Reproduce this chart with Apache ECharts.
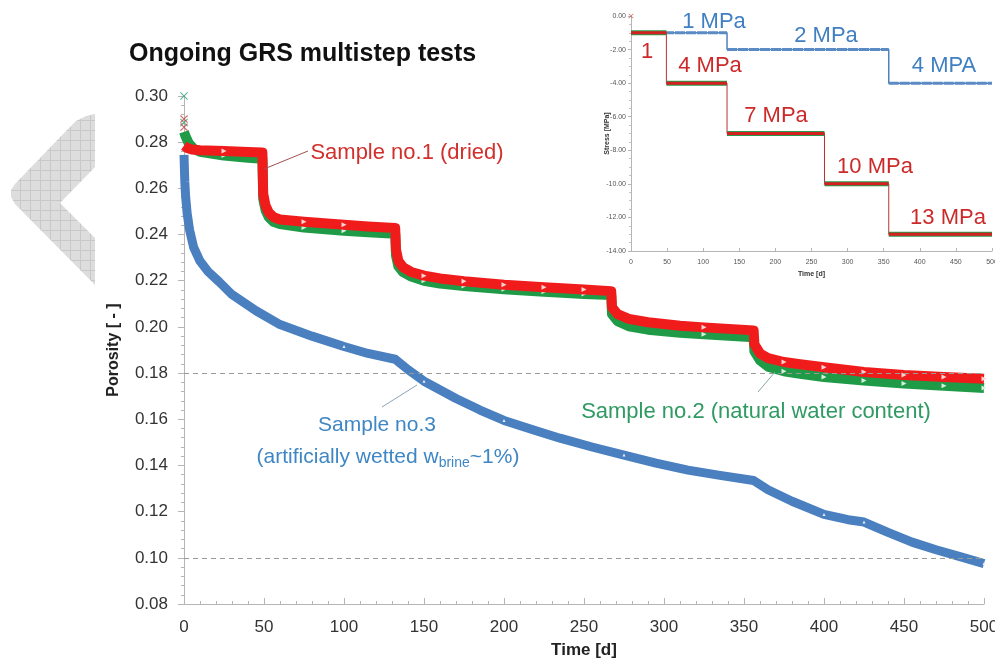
<!DOCTYPE html>
<html>
<head>
<meta charset="utf-8">
<script src="https://cdn.jsdelivr.net/npm/echarts@6/dist/echarts.min.js"></script>
<style>
  html, body { margin: 0; padding: 0; background: #ffffff; }
  #chart { width: 995px; height: 668px; }
</style>
</head>
<body>
<div id="chart"></div>
<script>
// ---- Porosity over time, [time in days, porosity] ----
// Sample no.1 (dried)
const sample1 = [
  [0, 0.2785], [2, 0.2775], [5, 0.2768], [10, 0.2765], [25, 0.2762], [40, 0.2758], [49, 0.2755],
  [49.5, 0.2575], [51, 0.2525], [53, 0.2495], [56, 0.2475], [60, 0.2465], [75, 0.2455], [100, 0.2442], [115, 0.2435], [132, 0.2428],
  [132.5, 0.2335], [134, 0.2285], [137, 0.2258], [142, 0.2238], [150, 0.2222], [160, 0.2210], [175, 0.2198], [200, 0.2183], [225, 0.2172], [250, 0.2162], [267, 0.2155],
  [267.5, 0.2085], [271, 0.2055], [278, 0.2035], [290, 0.2020], [310, 0.2005], [325, 0.1998], [356, 0.1985],
  [356.5, 0.1925], [360, 0.1885], [365, 0.1865], [375, 0.1848], [385, 0.1838], [400, 0.1825], [425, 0.1805], [450, 0.1792], [475, 0.1783], [500, 0.1775]
];
// Sample no.2 (natural water content)
const sample2 = [
  [0, 0.2845], [1, 0.2825], [3, 0.2795], [6, 0.2772], [10, 0.2758], [25, 0.2742], [40, 0.2733], [49, 0.2728],
  [49.5, 0.2555], [51, 0.2505], [53, 0.2475], [56, 0.2455], [60, 0.2445], [75, 0.2430], [100, 0.2416], [115, 0.2410], [132, 0.2403],
  [132.5, 0.2310], [134, 0.2262], [137, 0.2237], [142, 0.2218], [150, 0.2200], [160, 0.2188], [175, 0.2177], [200, 0.2163], [225, 0.2152], [250, 0.2143], [267, 0.2138],
  [267.5, 0.2055], [271, 0.2025], [278, 0.2003], [290, 0.1988], [310, 0.1975], [325, 0.1968], [356, 0.1955],
  [356.5, 0.1895], [360, 0.1855], [365, 0.1828], [375, 0.1808], [385, 0.1797], [400, 0.1783], [425, 0.1768], [450, 0.1755], [475, 0.1745], [500, 0.1735]
];
// Sample no.3 (artificially wetted, w_brine ~1 %)
const sample3 = [
  [0, 0.2745], [0.5, 0.2630], [1, 0.2565], [2, 0.2490], [3.5, 0.2420], [6, 0.2345], [10, 0.2285], [15, 0.2240], [22, 0.2195],
  [30, 0.2140], [45, 0.2070], [60, 0.2010], [80, 0.1960], [100, 0.1915], [115, 0.1885], [132, 0.1860],
  [140, 0.1815], [150, 0.1765], [170, 0.1690], [185, 0.1640], [200, 0.1595], [220, 0.1550], [235, 0.1518], [255, 0.1480],
  [275, 0.1445], [295, 0.1410], [315, 0.1380], [335, 0.1357], [356, 0.1335],
  [365, 0.1295], [380, 0.1245], [400, 0.1188], [415, 0.1165], [425, 0.1155], [440, 0.1110], [455, 0.1068], [470, 0.1035], [485, 0.1005], [500, 0.0975]
];
// First readings at t = 0
const startReadings1 = [0.2900, 0.2865];
const startReadings2 = [0.3000, 0.2885];
// Dashed reference porosity levels
const porosityGuides = [0.18, 0.10];

// ---- Loading programme, [from day, to day, stress in MPa] ----
const stressSteps12 = [[0, 49, -1], [49, 133, -4], [133, 268, -7], [268, 357, -10], [357, 500, -13]];
const stressSteps3 = [[0, 133, -1], [133, 357, -2], [357, 500, -4]];
const stressLabels3 = ['1 MPa', '2 MPa', '4 MPA'];
const stressLabels12 = ['1', '4 MPa', '7 MPa', '10 MPa', '13 MPa'];

// ---- helpers ----
const FONT = 'Liberation Sans, Arial, Helvetica, sans-serif';

function stepOutline(steps) {
  const pts = [];
  steps.forEach(([a, b, s]) => { pts.push([a, s]); pts.push([b, s]); });
  return pts;
}
function stepBars(steps) {
  const pts = [];
  steps.forEach(([a, b, s]) => { pts.push([a, s]); pts.push([b, s]); pts.push([b, '-']); });
  return pts;
}
function markerAt(v) {
  return (v[0] > 0 && v[0] % 25 === 0) ? 'triangle' : 'none';
}
function hatchCanvas() {
  const c = document.createElement('canvas');
  c.width = 10; c.height = 10;
  const g = c.getContext('2d');
  g.fillStyle = '#dddddd'; g.fillRect(0, 0, 10, 10);
  g.fillStyle = '#c8c8c8'; g.fillRect(0, 0, 10, 1); g.fillRect(0, 0, 1, 10);
  return c;
}
const xMark = 'path://M1,0L5,4L9,0L10,1L6,5L10,9L9,10L5,6L1,10L0,9L4,5L0,1Z';

function txt(x, y, text, size, color) {
  return {
    type: 'text', x: x, y: y, z: 50,
    style: {
      text: text, fill: color, fontSize: size, fontFamily: FONT,
      align: 'center', verticalAlign: 'middle', textAlign: 'center', textVerticalAlign: 'middle'
    }
  };
}
function lead(x1, y1, x2, y2, color) {
  return { type: 'line', z: 50, shape: { x1, y1, x2, y2 }, style: { stroke: color, lineWidth: 1 } };
}

const chart = echarts.init(document.getElementById('chart'), null, { renderer: 'canvas' });

const option = {
  animation: false,
  backgroundColor: '#ffffff',
  title: {
    text: 'Ongoing GRS multistep tests',
    left: 129, top: 42, padding: 0,
    textStyle: { fontFamily: FONT, fontSize: 25, fontWeight: 'bold', color: '#111111' }
  },
  grid: [
    { left: 184, right: 11, top: 96, bottom: 64, containLabel: false, outerBoundsMode: 'none' },
    { left: 631, width: 361, top: 16, height: 235, containLabel: false, outerBoundsMode: 'none' }
  ],
  xAxis: [
    {
      gridIndex: 0, type: 'value', min: 0, max: 500, interval: 50,
      axisLine: { onZero: false, lineStyle: { color: '#b5b5b5', width: 1 } },
      axisTick: { inside: true, length: 6, lineStyle: { color: '#b5b5b5' } },
      minorTick: { show: true, splitNumber: 5, length: 3, lineStyle: { color: '#b5b5b5' } },
      splitLine: { show: false },
      axisLabel: { fontFamily: FONT, fontSize: 17, color: '#333333', margin: 15 },
      name: 'Time [d]', nameLocation: 'middle', nameGap: 38,
      nameTextStyle: { fontFamily: FONT, fontSize: 17, fontWeight: 'bold', color: '#222222' }
    },
    {
      gridIndex: 1, type: 'value', min: 0, max: 500, interval: 50,
      axisLine: { onZero: false, lineStyle: { color: '#b5b5b5', width: 1 } },
      axisTick: { inside: true, length: 3, lineStyle: { color: '#b5b5b5' } },
      splitLine: { show: false },
      axisLabel: { fontFamily: FONT, fontSize: 7, color: '#555555', margin: 8 },
      name: 'Time [d]', nameLocation: 'middle', nameGap: 20,
      nameTextStyle: { fontFamily: FONT, fontSize: 7, fontWeight: 'bold', color: '#333333' }
    }
  ],
  yAxis: [
    {
      gridIndex: 0, type: 'value', min: 0.08, max: 0.30, interval: 0.02,
      axisLine: { show: true, onZero: false, lineStyle: { color: '#b5b5b5', width: 1 } },
      axisTick: { show: true, length: 6, lineStyle: { color: '#b5b5b5' } },
      minorTick: { show: true, splitNumber: 5, length: 3, lineStyle: { color: '#b5b5b5' } },
      splitLine: { show: false },
      axisLabel: { fontFamily: FONT, fontSize: 17, color: '#333333', margin: 16, formatter: v => v.toFixed(2) },
      name: 'Porosity [ - ]', nameLocation: 'middle', nameGap: 62,
      nameTextStyle: { fontFamily: FONT, fontSize: 16, fontWeight: 'bold', color: '#222222' }
    },
    {
      gridIndex: 1, type: 'value', min: -14, max: 0, interval: 2,
      axisLine: { show: true, onZero: false, lineStyle: { color: '#b5b5b5', width: 1 } },
      axisTick: { show: true, length: 3, lineStyle: { color: '#b5b5b5' } },
      minorTick: { show: true, splitNumber: 4, length: 2, lineStyle: { color: '#c5c5c5' } },
      splitLine: { show: false },
      axisLabel: { fontFamily: FONT, fontSize: 7, color: '#555555', margin: 5, formatter: v => v.toFixed(2) },
      name: 'Stress [MPa]', nameLocation: 'middle', nameGap: 20, nameMoveOverlap: false,
      nameTextStyle: { fontFamily: FONT, fontSize: 7, fontWeight: 'bold', color: '#333333' }
    }
  ],
  series: [
    // dashed reference levels
    {
      type: 'line', xAxisIndex: 0, yAxisIndex: 0, data: [], z: 1, silent: true,
      markLine: {
        silent: true, symbol: 'none', label: { show: false },
        lineStyle: { color: '#9a9a9a', type: [5, 4], width: 1 },
        data: porosityGuides.map(v => ({ yAxis: v }))
      }
    },
    {
      name: 'Sample no.3', type: 'line', xAxisIndex: 0, yAxisIndex: 0, z: 2,
      data: sample3, showSymbol: true, symbol: markerAt, symbolSize: 3,
      itemStyle: { color: '#e8eef8', borderWidth: 0 },
      lineStyle: { color: '#4a7fc0', width: 9, cap: 'butt', join: 'round' }
    },
    {
      name: 'Sample no.2', type: 'line', xAxisIndex: 0, yAxisIndex: 0, z: 3,
      data: sample2, showSymbol: true, symbol: markerAt, symbolSize: 5, symbolRotate: -90,
      itemStyle: { color: '#d8efe0', borderWidth: 0 },
      lineStyle: { color: '#1f9b48', width: 10, cap: 'butt', join: 'round' }
    },
    {
      name: 'Sample no.1', type: 'line', xAxisIndex: 0, yAxisIndex: 0, z: 4,
      data: sample1, showSymbol: true, symbol: markerAt, symbolSize: 5, symbolRotate: -90,
      itemStyle: { color: '#f8d4d4', borderWidth: 0 },
      lineStyle: { color: '#f01c1c', width: 10, cap: 'butt', join: 'round' }
    },
    {
      type: 'scatter', xAxisIndex: 0, yAxisIndex: 0, z: 5, symbol: xMark, symbolSize: 8,
      data: startReadings2.map(v => [0, v]), itemStyle: { color: '#3aa474' }
    },
    {
      type: 'scatter', xAxisIndex: 0, yAxisIndex: 0, z: 5, symbol: xMark, symbolSize: 8,
      data: startReadings1.map(v => [0, v]), itemStyle: { color: '#c24a4a' }
    },
    // ---- inset: loading programme ----
    {
      type: 'line', xAxisIndex: 1, yAxisIndex: 1, z: 2, symbol: 'none',
      data: stepOutline(stressSteps3), lineStyle: { color: '#4f81bd', width: 1.5 }
    },
    {
      type: 'line', xAxisIndex: 1, yAxisIndex: 1, z: 3, symbol: 'none',
      data: stepBars(stressSteps3), lineStyle: { color: '#5b8bc4', width: 3, type: [10, 1] }
    },
    {
      type: 'line', xAxisIndex: 1, yAxisIndex: 1, z: 4, symbol: 'none',
      data: stepOutline(stressSteps12), lineStyle: { color: '#b83232', width: 1 }
    },
    {
      type: 'line', xAxisIndex: 1, yAxisIndex: 1, z: 5, symbol: 'none',
      data: stepBars(stressSteps12), lineStyle: { color: '#2a9a4a', width: 5 }
    },
    {
      type: 'line', xAxisIndex: 1, yAxisIndex: 1, z: 6, symbol: 'none',
      data: stepBars(stressSteps12), lineStyle: { color: '#d42020', width: 3 }
    },
    {
      type: 'scatter', xAxisIndex: 1, yAxisIndex: 1, z: 7, symbol: xMark, symbolSize: 5,
      data: [[0, 0]], itemStyle: { color: '#c05050' }
    }
  ],
  graphic: [
    // decorative chevron in the left margin
    {
      type: 'polygon', z: 0, silent: true,
      shape: { points: [[95, 114], [86, 116], [76, 121], [67, 130], [15, 184], [11, 190], [11, 197], [15, 204],
                        [95, 285], [95, 238], [60, 203], [95, 167]] },
      style: { fill: { image: hatchCanvas(), repeat: 'repeat' }, stroke: 'none' }
    },
    // curve annotations
    lead(308, 151, 264, 169, '#a05050'),
    txt(407, 153, 'Sample no.1 (dried)', 22, '#d1302c'),
    lead(758, 392, 775, 372, '#8aa898'),
    txt(756, 412, 'Sample no.2 (natural water content)', 22, '#2f9a62'),
    lead(382, 407, 417, 385, '#8fa3b8'),
    txt(377, 425, 'Sample no.3', 21, '#3f86c4'),
    {
      type: 'text', x: 388, y: 457, z: 50,
      style: {
        text: '{a|(artificially wetted w}{s|brine}{a|~1%)}',
        align: 'center', verticalAlign: 'middle', textAlign: 'center', textVerticalAlign: 'middle',
        rich: {
          a: { fontFamily: FONT, fontSize: 21, fill: '#3f86c4', color: '#3f86c4', lineHeight: 26 },
          s: { fontFamily: FONT, fontSize: 14, fill: '#3f86c4', color: '#3f86c4', lineHeight: 14, verticalAlign: 'bottom' }
        }
      }
    },
    // inset step labels
    txt(714, 22, stressLabels3[0], 22, '#3f7fc2'),
    txt(826, 36, stressLabels3[1], 22, '#3f7fc2'),
    txt(944, 66, stressLabels3[2], 22, '#3f7fc2'),
    txt(647, 52, stressLabels12[0], 22, '#cc2a2a'),
    txt(710, 66, stressLabels12[1], 22, '#cc2a2a'),
    txt(776, 116, stressLabels12[2], 22, '#cc2a2a'),
    txt(875, 167, stressLabels12[3], 22, '#cc2a2a'),
    txt(948, 218, stressLabels12[4], 22, '#cc2a2a')
  ]
};

chart.setOption(option);
</script>
</body>
</html>
